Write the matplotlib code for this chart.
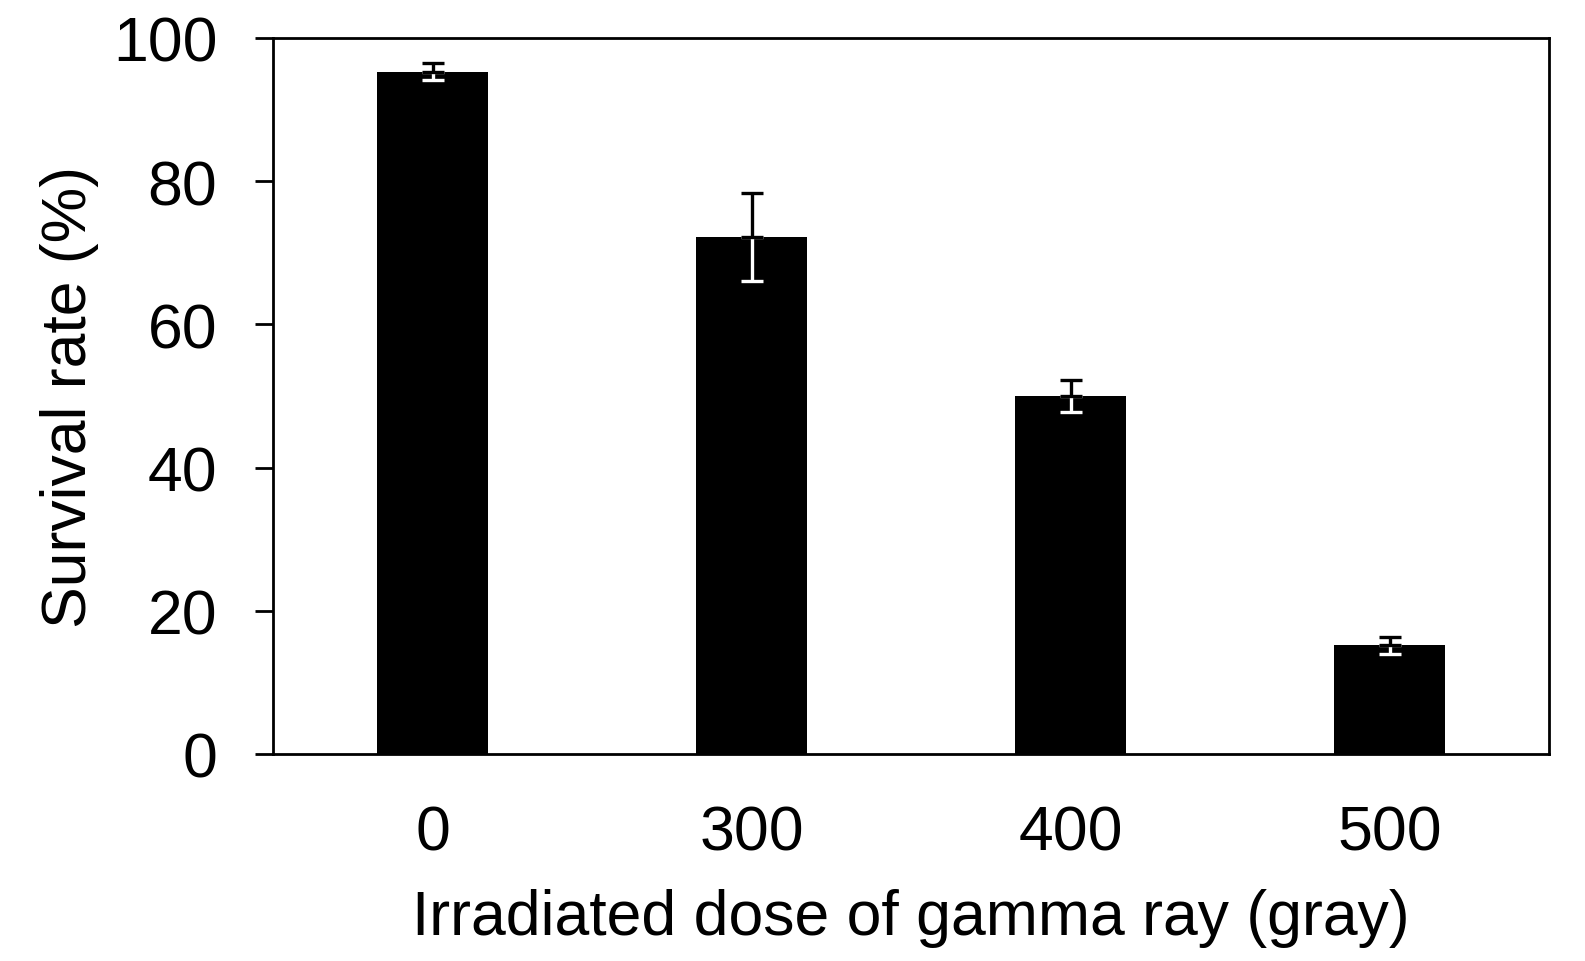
import matplotlib
matplotlib.use('Agg')
import matplotlib.pyplot as plt
import numpy as np

# Data
doses = ['0', '300', '400', '500']
survival = [95.3, 72.2, 50.0, 15.2]
errors = [1.2, 6.1, 2.2, 1.2]

plt.rcParams['font.family'] = ['Liberation Sans', 'DejaVu Sans']
font_size = 45

fig = plt.figure(figsize=(15.85, 9.62), dpi=100)
ax = fig.add_axes([273 / 1585, 1 - 755 / 962, 1276 / 1585, 716 / 962])

x = np.arange(len(doses))
ax.bar(x, survival, width=0.345, color='black', zorder=2)

# Error bars: white inside the bar, black above it
ax.errorbar(x, survival, yerr=[errors, [0] * len(errors)], fmt='none',
            ecolor='white', elinewidth=2.4, capsize=8, capthick=2.4, zorder=3)
ax.errorbar(x, survival, yerr=[[0] * len(errors), errors], fmt='none',
            ecolor='black', elinewidth=2.4, capsize=8, capthick=2.4, zorder=3)

ax.set_xlim(-0.5, len(doses) - 0.5)
ax.set_ylim(0, 100)
ax.set_yticks([0, 20, 40, 60, 80, 100])
ax.set_xticks(x)
ax.set_xticklabels(doses)

for s in ax.spines.values():
    s.set_linewidth(2)
ax.tick_params(axis='y', direction='out', length=13, width=2,
               labelsize=font_size, pad=27)
ax.tick_params(axis='x', length=0, labelsize=font_size, pad=36)

ax.set_xlabel('Irradiated dose of gamma ray (gray)', fontsize=font_size,
              labelpad=18)
ax.set_ylabel('Survival rate (%)', fontsize=font_size, labelpad=10)

fig.savefig('out.png', dpi=100)
